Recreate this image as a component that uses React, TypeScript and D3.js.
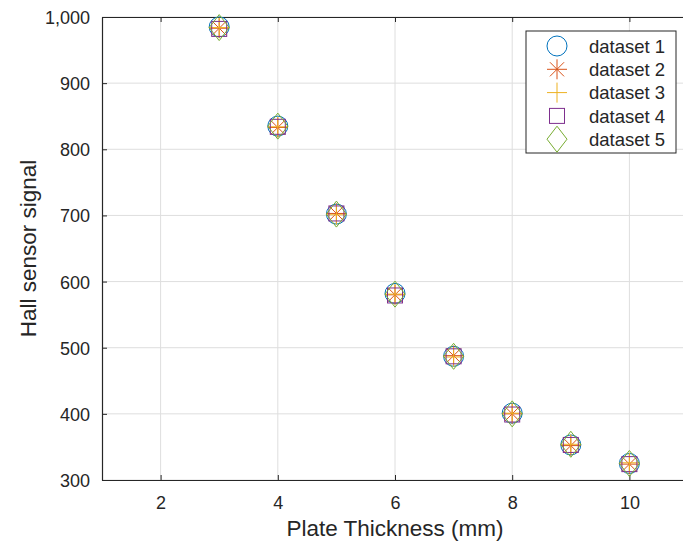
import React, { useRef, useEffect } from "react";
import * as d3 from "d3";

// plate thickness in mm
const thickness = [3, 4, 5, 6, 7, 8, 9, 10];

const dataset1 = [985, 835, 702, 582, 487, 401, 353, 325];
const dataset2 = [983, 833, 703, 580, 488, 400, 352, 324];
const dataset3 = [984, 834, 701, 581, 486, 401, 354, 326];
const dataset4 = [982, 834, 703, 579, 487, 399, 353, 324];
const dataset5 = [984, 835, 702, 581, 487, 400, 354, 325];

const seriesNames = ["dataset 1", "dataset 2", "dataset 3", "dataset 4", "dataset 5"];
const seriesColors = ["#0072BD", "#D95319", "#EDB120", "#7E2F8E", "#77AC30"];
const seriesMarkers = ["circle", "asterisk", "plus", "square", "diamond"];

const xTicks = [2, 4, 6, 8, 10];
const yTicks = [300, 400, 500, 600, 700, 800, 900, 1000];

const width = 683;
const height = 544;
const margin = { top: 17, right: -5, bottom: 64, left: 102 };
const font = "Arial, 'Liberation Sans', Helvetica, sans-serif";

// draw one marker shape centred on 0,0
function drawMarker(g, type, color) {
    const r = 10;
    if (type === "circle") {
        g.append("circle").attr("r", r).attr("fill", "none").attr("stroke", color);
    } else if (type === "square") {
        g.append("rect")
            .attr("x", -7.5).attr("y", -7.5)
            .attr("width", 15).attr("height", 15)
            .attr("fill", "none").attr("stroke", color);
    } else if (type === "diamond") {
        g.append("path")
            .attr("d", `M0,${-13}L${10},0L0,${13}L${-10},0Z`)
            .attr("fill", "none").attr("stroke", color);
    } else if (type === "plus") {
        g.append("path")
            .attr("d", `M${-r},0H${r}M0,${-r}V${r}`)
            .attr("fill", "none").attr("stroke", color);
    } else if (type === "asterisk") {
        const d = r * Math.SQRT1_2;
        g.append("path")
            .attr("d", `M${-r},0H${r}M0,${-r}V${r}M${-d},${-d}L${d},${d}M${-d},${d}L${d},${-d}`)
            .attr("fill", "none").attr("stroke", color);
    }
}

const App = () => {
    const ref = useRef(null);

    useEffect(() => {
        const svg = d3.select(ref.current);
        svg.selectAll("*").remove();

        const innerW = width - margin.left - margin.right;
        const innerH = height - margin.top - margin.bottom;

        const x = d3.scaleLinear().domain([1, 11]).range([0, innerW]);
        const y = d3.scaleLinear().domain([300, 1000]).range([innerH, 0]);

        svg.append("rect").attr("width", width).attr("height", height).attr("fill", "#fff");

        const graph = svg.append("g").attr("transform", `translate(${margin.left},${margin.top})`);

        // grid
        graph.append("g")
            .selectAll("line.gx")
            .data(xTicks)
            .join("line")
            .attr("x1", (d) => x(d)).attr("x2", (d) => x(d))
            .attr("y1", 0).attr("y2", innerH)
            .attr("stroke", "#dedede").attr("stroke-width", 1);
        graph.append("g")
            .selectAll("line.gy")
            .data(yTicks)
            .join("line")
            .attr("x1", 0).attr("x2", innerW)
            .attr("y1", (d) => y(d)).attr("y2", (d) => y(d))
            .attr("stroke", "#dedede").attr("stroke-width", 1);

        // axes with inward ticks
        const xAxis = graph.append("g")
            .attr("transform", `translate(0,${innerH})`)
            .call(d3.axisBottom(x).tickValues(xTicks).tickSizeInner(-5).tickSizeOuter(0).tickPadding(16));
        const xTop = graph.append("g")
            .call(d3.axisTop(x).tickValues(xTicks).tickSizeInner(-5).tickSizeOuter(0).tickFormat(() => ""));
        const yAxis = graph.append("g")
            .call(d3.axisLeft(y).tickValues(yTicks).tickSizeInner(-5).tickSizeOuter(0).tickPadding(12).tickFormat(d3.format(",")));

        [xAxis, xTop, yAxis].forEach((a) => {
            a.selectAll("path").attr("stroke", "#262626").attr("stroke-width", 1.2);
            a.selectAll("line").attr("stroke", "#262626");
            a.selectAll("text")
                .attr("fill", "#262626")
                .style("font-family", font)
                .style("font-size", "18px");
        });
        yAxis.selectAll("text").attr("dy", "0.36em");

        // markers
        const allSeries = [dataset1, dataset2, dataset3, dataset4, dataset5];
        allSeries.forEach((vals, i) => {
            vals.forEach((v, j) => {
                const g = graph.append("g")
                    .attr("transform", `translate(${x(thickness[j])},${y(v)})`);
                drawMarker(g, seriesMarkers[i], seriesColors[i]);
            });
        });

        // axis labels
        svg.append("text")
            .attr("x", margin.left + x(6))
            .attr("y", 536)
            .attr("text-anchor", "middle")
            .attr("fill", "#262626")
            .style("font-family", font)
            .style("font-size", "22.5px")
            .text("Plate Thickness (mm)");
        svg.append("text")
            .attr("transform", `translate(36,${margin.top + innerH / 2}) rotate(-90)`)
            .attr("text-anchor", "middle")
            .attr("fill", "#262626")
            .style("font-family", font)
            .style("font-size", "22.5px")
            .text("Hall sensor signal");

        // legend
        const legend = svg.append("g").attr("transform", "translate(526,31)");
        legend.append("rect")
            .attr("width", 150).attr("height", 122)
            .attr("fill", "#fff").attr("stroke", "#262626").attr("stroke-width", 1);
        seriesNames.forEach((name, i) => {
            const row = legend.append("g").attr("transform", `translate(31,${15 + i * 23.3})`);
            drawMarker(row, seriesMarkers[i], seriesColors[i]);
            row.append("text")
                .attr("x", 32)
                .attr("dy", "0.36em")
                .attr("fill", "#262626")
                .style("font-family", font)
                .style("font-size", "18.5px")
                .text(name);
        });
    }, []);

    return (
        <svg
            ref={ref}
            width={width}
            height={height}
            style={{ position: "absolute", left: 0, top: 0, display: "block" }}
        />
    );
};

export default App;
